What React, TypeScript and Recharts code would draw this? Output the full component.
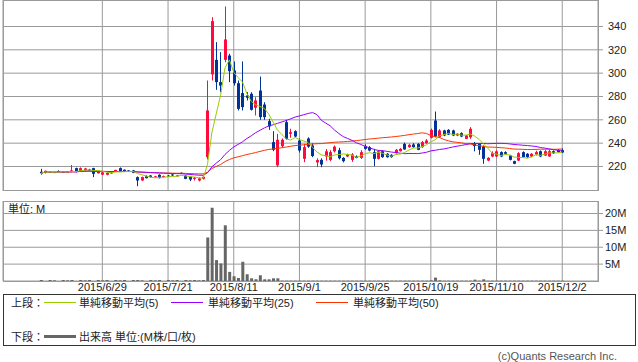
import React from "react";
import { ComposedChart, BarChart, Bar, Line, XAxis, YAxis, CartesianGrid } from "recharts";

// trading-day index of each date label (15 sessions apart)
const tickIdx = [14, 29, 44, 59, 74, 89, 104, 119];
const tickLabels = ["2015/6/29", "2015/7/21", "2015/8/11", "2015/9/1", "2015/9/25", "2015/10/19", "2015/11/10", "2015/12/2"];
const priceTicks = [220, 240, 260, 280, 300, 320, 340];
const volTicks = [5, 10, 15, 20];

// daily prices, 2015/6/9 .. 2015/12/2
const opens = [
  215.5, 214.5, 215.3, 215.2, 216.2, 215.6, 215.2, 215.4, 218.6, 216,
  216.6, 217.4, 218.6, 214.2, 213, 212.9, 215, 215.7, 218.6, 217.2,
  216.6, 216.6, 210.9, 208, 211.6, 212.3, 211, 212.9, 211.2, 212.2,
  213.2, 211.8, 214.6, 212.3, 211.4, 209.4, 208, 209.4, 228, 298.9,
  311.4, 292.3, 311.4, 315.1, 302.3, 291.4, 282.9, 280.9, 282.3, 270.3,
  285.1, 273.1, 258.9, 240.9, 221, 237.4, 258, 248, 250.3, 242.3,
  226.6, 244, 238, 223.5, 225.7, 228.6, 225.7, 233, 234, 227.4,
  228.6, 225.7, 228.6, 227.4, 237.4, 236.6, 232.3, 226.6, 233.1, 230.9,
  230, 231.4, 233.1, 239.4, 236.6, 238.9, 239.4, 236.6, 240, 244.6,
  259.4, 245.1, 250.9, 251.4, 250.9, 246.6, 248.6, 243.7, 245, 240,
  239.5, 237, 225.1, 228.6, 228.6, 232.3, 232.3, 229.4, 224.6, 225.1,
  232.3, 230.9, 228.6, 230.3, 233.1, 229.4, 228.6, 233.1, 234.3, 234,
];
const highs = [
  218, 216.5, 215.8, 215.6, 216.6, 216, 216, 221.3, 219, 219.2,
  218.8, 218, 218.9, 215.8, 215.2, 214.9, 215.5, 217.2, 219.2, 217.5,
  216.9, 217.1, 211.5, 211.3, 212.4, 212.6, 212, 213.3, 212.2, 212.6,
  213.5, 212.7, 214.9, 212.8, 211.7, 211, 210.5, 211.9, 293.7, 348,
  326.6, 318, 357.1, 316.6, 310, 293.7, 310, 283.7, 283.7, 279.4,
  297.1, 275.1, 260.9, 250.3, 248, 244, 260, 252.3, 251, 244,
  239.4, 245, 240, 227, 227, 235, 234, 238, 236, 228,
  231, 231.5, 229.5, 234, 239, 237.5, 235.1, 234, 234, 231.5,
  230.5, 235, 235.8, 240.5, 239.5, 240, 240, 242, 243.5, 252.5,
  267.1, 252, 251.5, 252, 251.5, 248.5, 249.3, 247, 253.7, 241,
  240, 238, 228, 233, 234, 233, 233, 230, 225, 232.3,
  233, 231.5, 231.5, 233.5, 233.8, 234, 234.2, 233.8, 235, 235.5,
];
const lows = [
  213, 214, 214.8, 214.6, 215.4, 215, 214.8, 214.9, 214.9, 215.5,
  216, 216.5, 210.9, 213.8, 212.5, 212.5, 214, 215.2, 215.2, 215.4,
  215.5, 214.3, 203.1, 207.7, 209.8, 210.6, 210.5, 209.8, 210.6, 211.2,
  211.8, 211.3, 213.6, 209.1, 207.5, 208, 207.2, 208.8, 226, 293.7,
  285.7, 283.7, 309.4, 292.3, 289.4, 268, 268, 276.6, 268, 263.7,
  260, 260, 251.4, 233.1, 219.4, 236, 243, 244.6, 245, 232,
  223.7, 236, 228, 219.5, 219.4, 225, 224.5, 232, 226, 223.5,
  228, 224, 227, 226.5, 234.5, 233, 220.3, 226, 227.5, 227.5,
  227.5, 231, 232.8, 234.3, 236, 236, 234, 236, 239.5, 244,
  245, 244.5, 246, 247, 246, 246, 245.2, 243.5, 243.7, 233,
  230, 222.3, 224.5, 228, 228, 228, 230.3, 225.2, 222, 224.6,
  227.5, 227.5, 228, 229.5, 228, 229, 228.3, 230.8, 232, 231.5,
];
const closes = [
  214.2, 216.3, 215, 214.9, 215.8, 215.3, 215.6, 216.6, 215.4, 218.6,
  218.3, 216.9, 213.7, 215.4, 215, 214.6, 214.5, 217.1, 215.7, 215.7,
  215.8, 214.6, 208, 210.9, 210, 210.9, 211.6, 210, 211.8, 211.6,
  212.3, 212.4, 213.9, 209.4, 208.8, 210.3, 209.8, 211.2, 268, 344.6,
  292.3, 289.4, 328.9, 301.7, 291.4, 269.4, 270.9, 278.9, 268.6, 276.6,
  262.3, 262.3, 254.3, 234.3, 242.9, 242.9, 243.7, 249.4, 245.7, 233.7,
  236.6, 237, 229, 225.5, 221.7, 233, 232.3, 237, 227, 224.6,
  230.3, 230.3, 227.4, 232.3, 235.1, 233.7, 226.6, 233.1, 228, 228,
  228, 234.3, 235.1, 234.6, 238.6, 236.6, 234.3, 240.9, 242.3, 251.4,
  245.7, 250.9, 246.6, 247.4, 246.6, 248, 245.7, 246.6, 252.3, 237.5,
  234.3, 226.6, 227.4, 231.4, 233, 228.6, 230.9, 225.7, 222.3, 231.4,
  228, 228, 230.9, 232.3, 228.6, 233.1, 233.1, 231.4, 232.3, 232,
];
// volume, millions
const volumes = [
  0.3, 0, 0.3, 0.2, 0, 0.3, 0.2, 0.3, 0, 0.3,
  0.2, 0.3, 0, 0.3, 0.2, 0.3, 0, 0.3, 0.2, 0.3,
  0, 0.3, 0.3, 0.2, 0, 0.3, 0.2, 0.3, 0, 0.3,
  0.2, 0.3, 0, 0.3, 0.2, 0.3, 0.2, 0.3, 12.9, 21.7,
  6.2, 5.2, 16.5, 2.7, 1.4, 0.9, 5.7, 2.0, 0.8, 0.5,
  1.7, 0.5, 0.5, 0.8, 0.8, 0.1, 0.1, 0.1, 0.1, 0.1,
  0.1, 0.1, 0.1, 0.1, 0.1, 0.1, 0.1, 0.1, 0.1, 0.1,
  0.1, 0.1, 0.1, 0.1, 0.1, 0.1, 0.1, 0.1, 0.1, 0.1,
  0.1, 0.1, 0.1, 0.1, 0.1, 0.1, 0.1, 0.1, 0.1, 0.2,
  1.0, 0.2, 0.1, 0.1, 0.1, 0.1, 0.1, 0.1, 0.1, 0.4,
  0.1, 0.5, 0.1, 0.1, 0.1, 0.1, 0.1, 0.1, 0.1, 0.1,
  0.1, 0.1, 0.1, 0.1, 0.1, 0.1, 0.1, 0.1, 0.1, 0.1,
];

const RED = "#ff0a3c";
const BLUE = "#003399";
const GRID = "#9a9a9a";
const FONT = '"Liberation Sans", "Noto Sans CJK JP", sans-serif';
const X_DOMAIN: [number, number] = [-8.68, 127.16];

function sma(n: number, i: number) {
  const from = Math.max(0, i - n + 1);
  let s = 0;
  for (let k = from; k <= i; k++) s += closes[k];
  return s / (i - from + 1);
}

const rows = closes.map((c, i) => ({
  i,
  open: opens[i],
  high: highs[i],
  low: lows[i],
  close: c,
  ma5: sma(5, i),
  ma25: sma(25, i),
  ma50: sma(50, i),
}));
const volRows = volumes.map((v, i) => ({ i, v }));

function Candle(props: any) {
  const { x, y, width, height, payload } = props;
  if (x == null || y == null) return null;
  const { open, close, high, low } = payload;
  const top = Math.min(y, y + height);
  const h = Math.abs(height);
  const span = high - low || 1;
  const toY = (v: number) => top + ((high - v) / span) * h;
  const color = close >= open ? RED : BLUE;
  const cx = Math.floor(x + width / 2) + 0.5;
  const y1 = toY(Math.max(open, close));
  const y2 = toY(Math.min(open, close));
  return (
    <g>
      <line x1={cx} x2={cx} y1={top} y2={top + Math.max(h, 1)} stroke={color} strokeWidth={1} />
      <rect x={cx - 1.5} y={y1} width={3} height={Math.max(y2 - y1, 1)} fill={color} />
    </g>
  );
}

const tickStyle = { fontSize: 11, fill: "#222", fontFamily: FONT };

export default function App() {
  return (
    <div style={{ position: "absolute", left: 0, top: 0, width: 638, height: 362, background: "#fff", fontFamily: FONT }}>
      <div style={{ position: "absolute", left: 0, top: 0 }}>
        <ComposedChart width={638} height={191} data={rows} margin={{ top: 0, right: 0, bottom: 0, left: 3 }}>
          <CartesianGrid stroke={GRID} />
          <XAxis type="number" dataKey="i" domain={X_DOMAIN} allowDataOverflow ticks={tickIdx} hide />
          <YAxis
            orientation="right"
            domain={[199, 362.7]}
            allowDataOverflow
            ticks={priceTicks}
            interval={0}
            width={40}
            axisLine={false}
            tickSize={5}
            tickMargin={5}
            tickLine={{ stroke: GRID }}
            tick={tickStyle}
          />
          <Bar dataKey={(d: any) => [d.low, d.high]} shape={Candle} barSize={3} isAnimationActive={false} />
          <Line dataKey="ma50" stroke="#ff3300" strokeWidth={1} dot={false} isAnimationActive={false} />
          <Line dataKey="ma25" stroke="#9900ff" strokeWidth={1} dot={false} isAnimationActive={false} />
          <Line dataKey="ma5" stroke="#99cc00" strokeWidth={1} dot={false} isAnimationActive={false} />
        </ComposedChart>
        <div style={{ position: "absolute", left: 3, top: 0, width: 596, height: 191, border: `1px solid ${GRID}`, boxSizing: "border-box", pointerEvents: "none" }} />
      </div>

      <div style={{ position: "absolute", left: 0, top: 201 }}>
        <BarChart width={638} height={98} data={volRows} margin={{ top: 0, right: 0, bottom: 0, left: 3 }}>
          <CartesianGrid stroke={GRID} />
          <XAxis
            type="number"
            dataKey="i"
            domain={X_DOMAIN}
            allowDataOverflow
            ticks={tickIdx}
            tickFormatter={(v: number) => tickLabels[tickIdx.indexOf(v)] ?? ""}
            height={18}
            axisLine={false}
            tickLine={false}
            tickSize={0}
            tickMargin={2}
            interval={0}
            tick={tickStyle}
          />
          <YAxis
            orientation="right"
            domain={[0, 23.7]}
            allowDataOverflow
            ticks={volTicks}
            interval={0}
            tickFormatter={(v: number) => `${v}M`}
            width={40}
            axisLine={false}
            tickSize={5}
            tickMargin={2}
            tickLine={{ stroke: GRID }}
            tick={tickStyle}
          />
          <Bar dataKey="v" fill="#666" barSize={3} isAnimationActive={false} />
        </BarChart>
        <div style={{ position: "absolute", left: 3, top: 0, width: 596, height: 81, border: `1px solid ${GRID}`, boxSizing: "border-box", pointerEvents: "none" }} />
        <div style={{ position: "absolute", left: 8, top: 2, fontSize: 11, color: "#222", lineHeight: "12px" }}>単位: M</div>
      </div>

      <div style={{ position: "absolute", left: 3, top: 294, width: 633, height: 52, border: "1px solid #333", boxSizing: "border-box", fontSize: 11, color: "#222" }}>
        <div style={{ position: "absolute", left: 7, top: 2, lineHeight: "12px" }}>上段：</div>
        <div style={{ position: "absolute", left: 40, top: 7, width: 32, height: 1, background: "#99cc00" }} />
        <div style={{ position: "absolute", left: 75, top: 2, lineHeight: "12px" }}>単純移動平均(5)</div>
        <div style={{ position: "absolute", left: 167, top: 7, width: 32, height: 1, background: "#9900ff" }} />
        <div style={{ position: "absolute", left: 204, top: 2, lineHeight: "12px" }}>単純移動平均(25)</div>
        <div style={{ position: "absolute", left: 312, top: 7, width: 32, height: 1, background: "#ff3300" }} />
        <div style={{ position: "absolute", left: 349, top: 2, lineHeight: "12px" }}>単純移動平均(50)</div>
        <div style={{ position: "absolute", left: 7, top: 36, lineHeight: "12px" }}>下段：</div>
        <div style={{ position: "absolute", left: 40, top: 40, width: 32, height: 3, background: "#666" }} />
        <div style={{ position: "absolute", left: 75, top: 36, lineHeight: "12px" }}>出来高 単位:(M株/口/枚)</div>
      </div>
      <div style={{ position: "absolute", right: 21, top: 350, fontSize: 11, color: "#555", lineHeight: "12px" }}>(c)Quants Research Inc.</div>
    </div>
  );
}
